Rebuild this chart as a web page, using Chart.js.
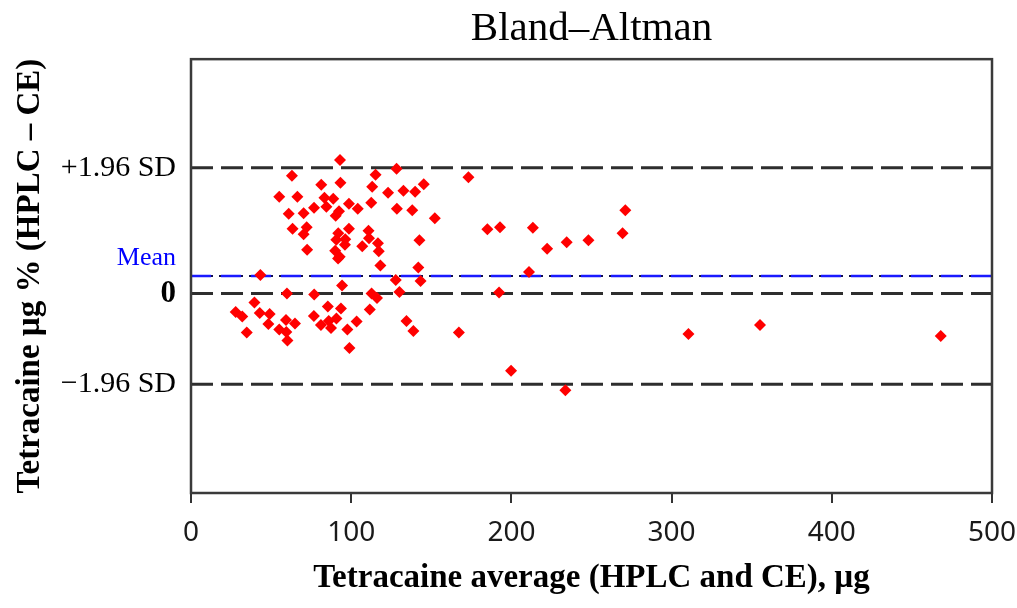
<!DOCTYPE html>
<html>
<head>
<meta charset="utf-8">
<script src="https://cdn.jsdelivr.net/npm/chart.js@4"></script>
<style>
  html, body { margin: 0; padding: 0; background: #fff; }
  #wrap { width: 1017px; height: 608px; }
</style>
</head>
<body>
<div id="wrap"><canvas id="chart"></canvas></div>
<script>
// average of the two methods (µg)
const avgValues = [
  93.0, 63.0, 115.2, 128.3, 173.2, 81.3, 93.3, 113.1, 145.3, 55.1,
  66.4, 83.3, 88.8, 123.0, 132.6, 139.9, 76.8, 84.5, 98.6, 104.1,
  112.5, 128.5, 138.1, 61.0, 70.3, 90.3, 92.4, 152.2, 63.4, 72.2,
  70.3, 91.9, 98.6, 110.8, 90.7, 96.3, 111.1, 96.1, 106.9, 116.7,
  142.6, 72.5, 90.0, 117.2, 92.8, 91.8, 118.2, 43.3, 141.9, 127.8,
  143.3, 94.3, 59.9, 76.9, 112.7, 116.1, 130.1, 39.6, 27.9, 32.0,
  42.9, 49.1, 85.4, 93.6, 111.6, 48.3, 59.3, 64.9, 76.7, 90.8,
  103.4, 34.8, 55.1, 59.5, 60.2, 81.1, 86.0, 87.4, 97.6, 98.9,
  134.5, 138.8, 167.2, 185.0, 192.9, 213.4, 222.3, 234.5, 248.1, 271.1,
  269.4, 211.0, 192.3, 199.8, 233.7, 310.5, 355.2, 468.0
]
// difference HPLC - CE (%)
const diffValues = [
  13.4, 11.8, 11.9, 12.5, 11.65, 10.9, 11.1, 10.7, 10.95, 9.7,
  9.7, 9.6, 9.5, 10.1, 10.3, 10.2, 8.6, 8.7, 9.0, 8.5,
  9.1, 8.5, 8.35, 8.0, 8.05, 7.8, 8.25, 7.55, 6.5, 6.65,
  5.95, 6.05, 6.5, 6.3, 5.4, 5.45, 5.55, 4.9, 4.75, 5.05,
  5.35, 4.4, 4.3, 4.25, 3.7, 3.5, 2.8, 1.85, 2.6, 1.35,
  1.25, 0.8, 0.0, -0.1, 0.0, -0.45, 0.15, -0.9, -1.85, -2.3,
  -1.95, -2.05, -1.3, -1.5, -1.6, -3.05, -2.65, -3.0, -2.25, -2.5,
  -2.8, -3.9, -3.6, -3.85, -4.7, -3.15, -2.75, -3.45, -3.6, -5.45,
  -2.75, -3.75, -3.9, 6.45, 6.65, 6.6, 4.5, 5.15, 5.35, 8.35,
  6.05, 2.15, 0.1, -7.75, -9.7, -4.05, -3.15, -4.25
]

const meanDiff = 1.75
const upperLoA = 12.6
const lowerLoA = -9.1
const xRange = [0, 500]
const yRange = [-20, 23.5]
const xTickStep = 100

const points = avgValues.map((x, i) => ({ x, y: diffValues[i] }))
const hline = (v) => xRange.map(x => ({ x, y: v }))

const yLabels = {}
yLabels[upperLoA] = '+1.96 SD'
yLabels[meanDiff] = ['Mean', '']
yLabels[0] = '0'
yLabels[lowerLoA] = '\u22121.96 SD'

const serif = "'Liberation Serif', 'Times New Roman', serif"

const dashed = {
  type: 'line',
  borderColor: '#2e2e2e',
  borderWidth: 3,
  borderDash: [22, 8],
  pointRadius: 0,
  fill: false,
  order: 3
}

// outer frame round the plot area
const frame = {
  id: 'frame',
  afterDraw(chart) {
    const { ctx, chartArea: a } = chart
    ctx.save()
    ctx.strokeStyle = '#3a3a3a'
    ctx.lineWidth = 2.5
    ctx.strokeRect(a.left, a.top, a.right - a.left, a.bottom - a.top)
    ctx.restore()
  }
}

new Chart(document.getElementById('chart'), {
  type: 'scatter',
  data: {
    datasets: [
      {
        label: 'diff',
        data: points,
        pointStyle: 'rectRot',
        pointRadius: 6,
        pointHoverRadius: 6,
        backgroundColor: '#ff0000',
        borderWidth: 0,
        order: 0
      },
      { ...dashed, label: '+1.96 SD', data: hline(upperLoA) },
      { ...dashed, label: '0', data: hline(0) },
      { ...dashed, label: '-1.96 SD', data: hline(lowerLoA) },
      // mean line: blue dashes with dark ends
      { ...dashed, label: 'mean', data: hline(meanDiff), borderColor: '#1a1aff', borderWidth: 2.5, borderDash: [20, 10], order: 1 },
      { ...dashed, label: 'mean edge', data: hline(meanDiff), borderColor: '#10104a', borderWidth: 2, borderDash: [24, 6], borderDashOffset: 2, order: 2 }
    ]
  },
  options: {
    responsive: true,
    maintainAspectRatio: false,
    animation: false,
    layout: { padding: 0 },
    plugins: {
      legend: { display: false },
      tooltip: { enabled: false },
      title: {
        display: true,
        fullSize: false,
        text: 'Bland\u2013Altman',
        color: '#000',
        font: { family: serif, size: 41, weight: 'normal', lineHeight: 1.15 },
        padding: { top: 6, bottom: 6 }
      }
    },
    scales: {
      x: {
        type: 'linear',
        min: xRange[0],
        max: xRange[1],
        afterFit: (s) => { s.height = 115; s.paddingRight = 25 },
        ticks: {
          stepSize: xTickStep,
          color: '#1a1a1a',
          padding: 13,
          maxRotation: 0,
          font: { family: "'Noto Sans', 'Liberation Sans', sans-serif", size: 28, weight: 'normal' }
        },
        grid: { display: true, drawOnChartArea: false, drawTicks: true, tickLength: 10, color: '#333', lineWidth: 2 },
        border: { display: true, color: '#333', width: 2 },
        title: {
          display: true,
          text: 'Tetracaine average (HPLC and CE), \u00b5g',
          color: '#000',
          font: { family: serif, size: 33, weight: 'bold', lineHeight: 1.1 },
          padding: { top: 0, bottom: 11 }
        }
      },
      y: {
        type: 'linear',
        min: yRange[0],
        max: yRange[1],
        afterFit: (s) => { s.width = 191 },
        afterBuildTicks: (s) => {
          s.ticks = [lowerLoA, 0, meanDiff, upperLoA].map(v => ({ value: v }))
        },
        ticks: {
          padding: 15,
          callback: (v) => yLabels[v],
          color: (c) => c.tick && c.tick.value === meanDiff ? '#0000ff' : '#000',
          font: (c) => {
            const v = c.tick ? c.tick.value : null
            if (v === 0) return { family: serif, size: 31, weight: 'bold', lineHeight: 1.2 }
            if (v === meanDiff) return { family: serif, size: 26, weight: 'normal', lineHeight: 1.4 }
            return { family: serif, size: 30, weight: 'normal', lineHeight: 1.2 }
          }
        },
        grid: { display: false, drawTicks: false },
        border: { display: true, color: '#333', width: 2 },
        title: {
          display: true,
          text: 'Tetracaine \u00b5g % (HPLC \u2013 CE)',
          color: '#000',
          font: { family: serif, size: 33, weight: 'bold', lineHeight: 1.1 },
          padding: { top: 12, bottom: 0 }
        }
      }
    }
  },
  plugins: [frame]
})
</script>
</body>
</html>
